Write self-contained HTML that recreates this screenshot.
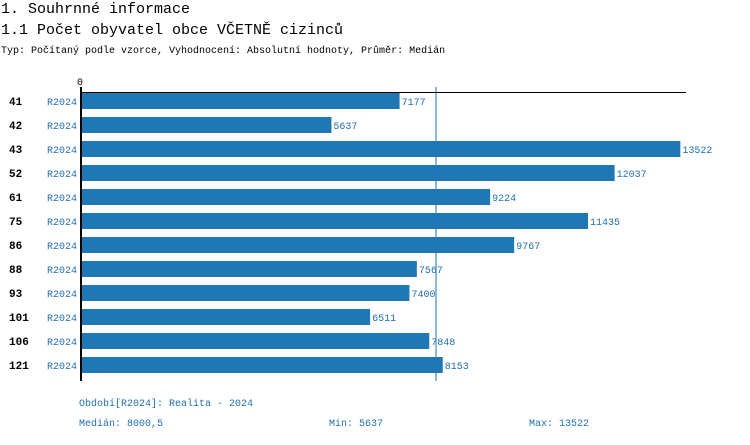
<!DOCTYPE html>
<html><head><meta charset="utf-8"><style>
body{margin:0;width:750px;height:440px;background:#fff;overflow:hidden;font-family:"Liberation Mono",monospace}
svg text{font-family:"Liberation Mono",monospace}
</style></head><body>
<svg width="750" height="440">
<text x="1" y="13" font-size="15" fill="#000">1. Souhrnné informace</text>
<text x="1" y="34" font-size="15" fill="#000">1.1 Počet obyvatel obce VČETNĚ cizinců</text>
<text x="1" y="53" font-size="10" fill="#000">Typ: Počítaný podle vzorce, Vyhodnocení: Absolutní hodnoty, Průměr: Medián</text>
<g id="plot"></g>
<text x="79" y="406" font-size="10" fill="#1f6fb0">Období[R2024]: Realita - 2024</text>
<text x="79" y="426" font-size="10" fill="#1f6fb0">Medián: 8000,5</text>
<text x="329" y="426" font-size="10" fill="#1f6fb0">Min: 5637</text>
<text x="529" y="426" font-size="10" fill="#1f6fb0">Max: 13522</text>
</svg>
<script>
const categories=["41","42","43","52","61","75","86","88","93","101","106","121"];
const periods=["R2024","R2024","R2024","R2024","R2024","R2024","R2024","R2024","R2024","R2024","R2024","R2024"];
const values=[7177,5637,13522,12037,9224,11435,9767,7567,7400,6511,7848,8153];
const medianValue=8000.5;
const NS="http://www.w3.org/2000/svg";
const g=document.getElementById('plot');
const x0=82, k=0.04425;
const xs=v=>x0+v*k;
const ys=i=>93+i*24;
function mk(t,a){const e=document.createElementNS(NS,t);for(const n in a)e.setAttribute(n,a[n]);g.appendChild(e);return e;}
let e;
e=mk('line',{x1:xs(medianValue),x2:xs(medianValue),y1:87,y2:381,stroke:'#1f77b4','stroke-width':1});


values.forEach((v,i)=>{
  const y=ys(i);
  e=mk('rect',{x:x0,y:y,width:xs(v)-x0,height:16,fill:'#1f77b4'});
  
  
  e=mk('text',{x:xs(v)+2,y:y+12,'font-size':10,fill:'#1f6fb0'});e.textContent=v;
  
  
  e=mk('text',{x:9,y:y+12,'font-size':11,'font-weight':'bold',fill:'#000'});e.textContent=categories[i];
  
  
  e=mk('text',{x:47,y:y+12,'font-size':10,fill:'#1f6fb0'});e.textContent=periods[i];
  
  
});
e=mk('line',{x1:80,x2:686,y1:92.5,y2:92.5,stroke:'#000','stroke-width':1});


e=mk('line',{x1:81,x2:81,y1:87,y2:381,stroke:'#000','stroke-width':2});


e=mk('text',{x:77,y:85,'font-size':10,fill:'#000'});e.textContent='0';


</script>
</body></html>
